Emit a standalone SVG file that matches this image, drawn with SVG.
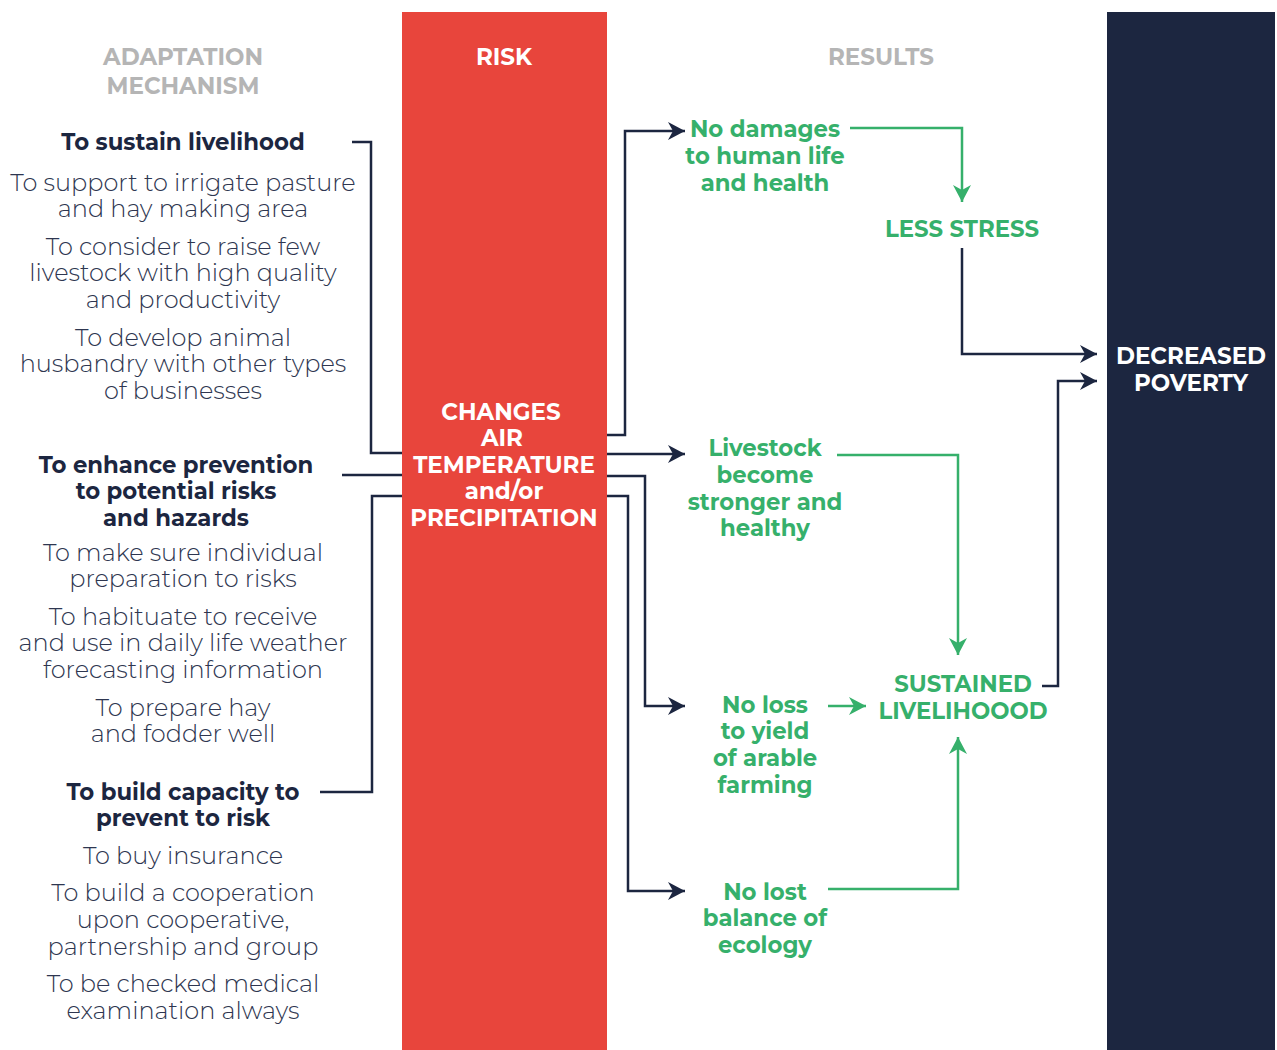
<svg xmlns="http://www.w3.org/2000/svg" width="1277" height="1050" viewBox="0 0 1277 1050">
<style>
text{font-family:Montserrat,"Open Sans","Noto Sans",sans-serif;text-anchor:middle}
.hd{font-size:23px;font-weight:700;fill:#b5b5b5}
.b{font-size:22.8px;font-weight:700;fill:#1c2640}
.l{font-size:24px;font-weight:300;fill:#2e3650}
.w{font-size:23px;font-weight:700;fill:#ffffff}
.g{font-size:22.8px;font-weight:700;fill:#36b06b}
.cn{fill:none;stroke:#1c2640;stroke-width:2.5}
.cg{fill:none;stroke:#36b06b;stroke-width:2.5}
</style>
<defs>
<marker id="an" markerUnits="userSpaceOnUse" markerWidth="20" markerHeight="20" viewBox="-18 -10 20 20" refX="0" refY="0" orient="auto"><path d="M0,0 L-17,-9 L-12,0 L-17,9 Z" fill="#1c2640"/></marker>
<marker id="ag" markerUnits="userSpaceOnUse" markerWidth="20" markerHeight="20" viewBox="-18 -10 20 20" refX="0" refY="0" orient="auto"><path d="M0,0 L-17,-9 L-12,0 L-17,9 Z" fill="#36b06b"/></marker>
</defs>
<rect width="1277" height="1050" fill="#ffffff"/>
<g id="risk-bar"><rect x="402" y="12" width="205" height="1038" fill="#e8453c"/>
<text class="w" x="504" y="65">RISK</text>
<text class="w" x="501" y="420">CHANGES</text>
<text class="w" x="502" y="446">AIR</text>
<text class="w" x="504" y="473">TEMPERATURE</text>
<text class="w" x="504" y="499">and/or</text>
<text class="w" x="504" y="526">PRECIPITATION</text>
</g>
<g id="poverty-bar"><rect x="1107" y="12" width="168" height="1038" fill="#1c2640"/>
<text class="w" x="1191" y="364">DECREASED</text>
<text class="w" x="1191" y="391">POVERTY</text>
</g>
<g id="headers">
<text class="hd" x="183" y="65">ADAPTATION</text>
<text class="hd" x="183" y="94">MECHANISM</text>
<text class="hd" x="881" y="65">RESULTS</text>
</g>
<g id="sustain">
<text class="b" x="183" y="150">To sustain livelihood</text>
<text class="l" x="183" y="191">To support to irrigate pasture</text>
<text class="l" x="183" y="217">and hay making area</text>
<text class="l" x="183" y="255">To consider to raise few</text>
<text class="l" x="183" y="281">livestock with high quality</text>
<text class="l" x="183" y="308">and productivity</text>
<text class="l" x="183" y="346">To develop animal</text>
<text class="l" x="183" y="372">husbandry with other types</text>
<text class="l" x="183" y="399">of businesses</text>
</g>
<g id="prevention">
<text class="b" x="176" y="473">To enhance prevention</text>
<text class="b" x="176" y="499">to potential risks</text>
<text class="b" x="176" y="526">and hazards</text>
<text class="l" x="183" y="561">To make sure individual</text>
<text class="l" x="183" y="587">preparation to risks</text>
<text class="l" x="183" y="625">To habituate to receive</text>
<text class="l" x="183" y="651">and use in daily life weather</text>
<text class="l" x="183" y="678">forecasting information</text>
<text class="l" x="183" y="716">To prepare hay</text>
<text class="l" x="183" y="742">and fodder well</text>
</g>
<g id="capacity">
<text class="b" x="183" y="800">To build capacity to</text>
<text class="b" x="183" y="826">prevent to risk</text>
<text class="l" x="183" y="864">To buy insurance</text>
<text class="l" x="183" y="901">To build a cooperation</text>
<text class="l" x="183" y="928">upon cooperative,</text>
<text class="l" x="183" y="955">partnership and group</text>
<text class="l" x="183" y="992">To be checked medical</text>
<text class="l" x="183" y="1019">examination always</text>
</g>
<g id="no-damages">
<text class="g" x="765" y="137">No damages</text>
<text class="g" x="765" y="164">to human life</text>
<text class="g" x="765" y="191">and health</text>
</g>
<g id="less-stress"><text class="g" x="962" y="237">LESS STRESS</text></g>
<g id="livestock">
<text class="g" x="765" y="456">Livestock</text>
<text class="g" x="765" y="483">become</text>
<text class="g" x="765" y="510">stronger and</text>
<text class="g" x="765" y="536">healthy</text>
</g>
<g id="no-loss">
<text class="g" x="765" y="713">No loss</text>
<text class="g" x="765" y="739">to yield</text>
<text class="g" x="765" y="766">of arable</text>
<text class="g" x="765" y="793">farming</text>
</g>
<g id="no-lost">
<text class="g" x="765" y="900">No lost</text>
<text class="g" x="765" y="926">balance of</text>
<text class="g" x="765" y="953">ecology</text>
</g>
<g id="sustained">
<text class="g" x="963" y="692">SUSTAINED</text>
<text class="g" x="963" y="719">LIVELIHOOOD</text>
</g>
<g id="connectors">
<path class="cn" d="M352,142 H371 V453 H402"/>
<path class="cn" d="M342,475 H402"/>
<path class="cn" d="M320,792 H372 V496 H402"/>
<path class="cn" d="M607,435 H625 V131 H685" marker-end="url(#an)"/>
<path class="cn" d="M607,454 H685" marker-end="url(#an)"/>
<path class="cn" d="M607,476 H645 V706 H685" marker-end="url(#an)"/>
<path class="cn" d="M607,496 H628 V891 H685" marker-end="url(#an)"/>
<path class="cg" d="M850,128 H962 V202" marker-end="url(#ag)"/>
<path class="cn" d="M962,248 V354 H1097" marker-end="url(#an)"/>
<path class="cg" d="M837,455 H958 V655" marker-end="url(#ag)"/>
<path class="cg" d="M828,706 H866" marker-end="url(#ag)"/>
<path class="cg" d="M828,889 H958 V737" marker-end="url(#ag)"/>
<path class="cn" d="M1042,686 H1058 V381 H1097" marker-end="url(#an)"/>
</g>
</svg>
